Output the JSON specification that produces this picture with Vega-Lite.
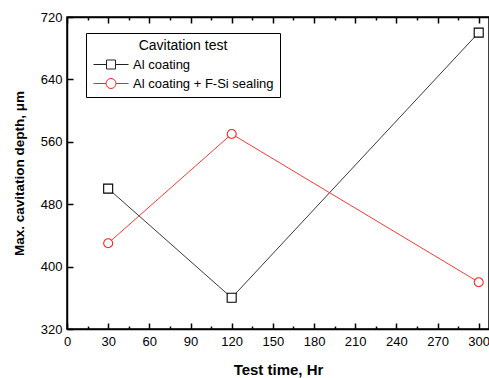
{
  "$schema": "https://vega.github.io/schema/vega-lite/v6.json",
  "width": 422,
  "height": 312,
  "autosize": {"type": "none"},
  "padding": {"left": 67, "top": 17, "right": 0, "bottom": 49},
  "background": "white",
  "config": {
    "font": "Liberation Sans",
    "view": {"stroke": "black", "strokeWidth": 1.5},
    "axis": {
      "domainColor": "black",
      "domainWidth": 1.5,
      "tickColor": "black",
      "tickWidth": 1.5,
      "labelColor": "black",
      "labelFont": "Liberation Sans",
      "labelFontSize": 13,
      "titleFont": "Liberation Sans",
      "titleFontSize": 14,
      "titleFontWeight": "bold",
      "titleColor": "black",
      "grid": false
    }
  },
  "data": {
    "values": [
      {"series": "Al coating", "time": 30, "depth": 500},
      {"series": "Al coating", "time": 120, "depth": 360},
      {"series": "Al coating", "time": 300, "depth": 700},
      {"series": "Al coating + F-Si sealing", "time": 30, "depth": 430},
      {"series": "Al coating + F-Si sealing", "time": 120, "depth": 570},
      {"series": "Al coating + F-Si sealing", "time": 300, "depth": 380}
    ]
  },
  "layer": [
    {
      "mark": {"type": "line", "strokeWidth": 0.9},
      "encoding": {
        "x": {
          "field": "time", "type": "quantitative",
          "scale": {"domain": [0, 307.5], "nice": false, "zero": false},
          "axis": {
            "orient": "bottom",
            "title": "Test time, Hr",
            "titleFontSize": 15,
            "values": [0,15,30,45,60,75,90,105,120,135,150,165,180,195,210,225,240,255,270,285,300],
            "labelExpr": "datum.value % 30 === 0 ? datum.label : ''",
            "tickSize": {"condition": {"test": "datum.value % 30 === 0", "value": -6}, "value": -3},
            "labelPadding": 12,
            "titlePadding": 11,
            "labelFlush": false,
            "labelOverlap": false
          }
        },
        "y": {
          "field": "depth", "type": "quantitative",
          "scale": {"domain": [320, 720], "nice": false, "zero": false},
          "axis": {
            "orient": "left",
            "title": "Max. cavitation depth, μm",
            "titleFontSize": 13.5,
            "values": [320,340,360,380,400,420,440,460,480,500,520,540,560,580,600,620,640,660,680,700,720],
            "labelExpr": "datum.value % 80 === 0 ? datum.label : ''",
            "tickSize": {"condition": {"test": "datum.value % 80 === 0", "value": -6}, "value": -3},
            "labelPadding": 11,
            "titlePadding": 14,
            "labelFlush": false,
            "labelOverlap": false
          }
        },
        "color": {
          "field": "series", "type": "nominal",
          "scale": {"domain": ["Al coating", "Al coating + F-Si sealing"], "range": ["#222222", "#ff2020"]},
          "legend": {
            "orient": "none",
            "legendX": 19,
            "legendY": 16,
            "title": "Cavitation test",
            "titleFont": "Liberation Sans",
            "titleFontSize": 14,
            "titleFontWeight": "normal",
            "titleColor": "black",
            "titleAnchor": "middle",
            "titlePadding": 5,
            "labelFont": "Liberation Sans",
            "labelFontSize": 13,
            "labelColor": "black",
            "labelOffset": 28,
            "symbolSize": 100,
            "symbolStrokeWidth": 1,
            "rowPadding": 4,
            "padding": 6,
            "fillColor": "white",
            "strokeColor": "black",
            "encode": {
              "symbols": {
                "update": {
                  "shape": {"signal": "datum.value === 'Al coating' ? 'M-1,0H1.6M3.4,0H6M1.6,-0.9H3.4V0.9H1.6Z' : 'M-1,0H1.5M3.5,0H6M3.5,0A1,1 0 1,1 1.5,0A1,1 0 1,1 3.5,0Z'"},
                  "fill": {"value": "white"},
                  "strokeWidth": {"value": 1}
                }
              }
            }
          }
        }
      }
    },
    {
      "transform": [{"filter": "datum.series === 'Al coating'"}],
      "mark": {"type": "point", "shape": "square", "fill": "white", "filled": false, "opacity": 1, "stroke": "black", "strokeWidth": 1.1, "size": 81},
      "encoding": {
        "x": {
          "field": "time", "type": "quantitative",
          "axis": {
            "orient": "top",
            "title": null,
            "values": [0,15,30,45,60,75,90,105,120,135,150,165,180,195,210,225,240,255,270,285,300],
            "labels": false,
            "tickSize": {"condition": {"test": "datum.value % 30 === 0", "value": -6}, "value": -3}
          }
        },
        "y": {"field": "depth", "type": "quantitative"}
      }
    },
    {
      "transform": [{"filter": "datum.series !== 'Al coating'"}],
      "mark": {"type": "point", "shape": "circle", "fill": "white", "filled": false, "opacity": 1, "stroke": "#ff2020", "strokeWidth": 1.1, "size": 81},
      "encoding": {
        "x": {"field": "time", "type": "quantitative", "axis": null},
        "y": {"field": "depth", "type": "quantitative"}
      }
    }
  ],
  "resolve": {"axis": {"x": "independent"}}
}
